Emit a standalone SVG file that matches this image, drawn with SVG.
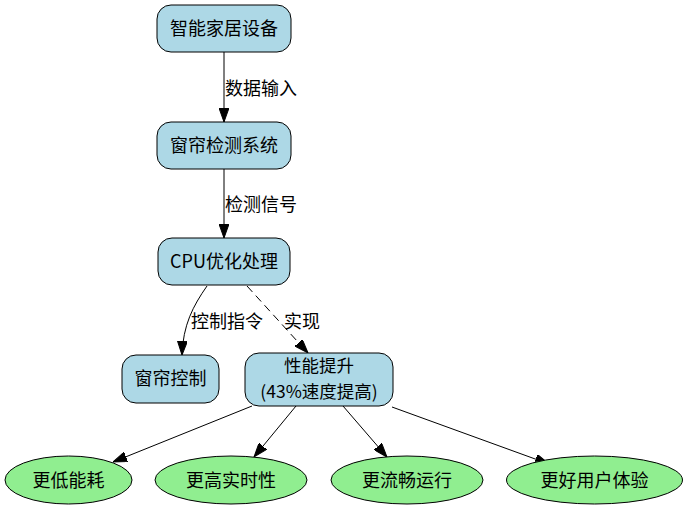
<svg xmlns="http://www.w3.org/2000/svg" width="687" height="510" viewBox="0 0 687 510">
<style>
.box{fill:#add8e6;stroke:#000;stroke-width:1}
.ell{fill:#90ee90;stroke:#000;stroke-width:1}
text{font-family:"Noto Sans CJK SC","Liberation Sans",sans-serif;font-size:18px;fill:#000}
.c{text-anchor:middle}
.t2{font-size:17.5px}
.e{fill:none;stroke:#000;stroke-width:1}
</style>
<defs>
<marker id="ah" viewBox="0 0 14 10" refX="14" refY="5" markerWidth="14" markerHeight="10" markerUnits="userSpaceOnUse" orient="auto">
<path d="M0,0 L14,5 L0,10 Z" fill="#000" stroke="#000"/>
</marker>
</defs>
<g id="connectors">
<path class="e" d="M224,52 L224,122" marker-end="url(#ah)"/>
<text x="225" y="95">数据输入</text>
<path class="e" d="M224,169 L224,238" marker-end="url(#ah)"/>
<text x="225" y="211">检测信号</text>
<path class="e" d="M207,286 C193,306 183,325 182,355" marker-end="url(#ah)"/>
<text x="191" y="328">控制指令</text>
<path class="e" d="M247,286 L308,353" stroke-dasharray="8,5" marker-end="url(#ah)"/>
<text x="284" y="328">实现</text>
<path class="e" d="M252,406 L113,462" marker-end="url(#ah)"/>
<path class="e" d="M296,406 L254,457" marker-end="url(#ah)"/>
<path class="e" d="M343,406 L387,457" marker-end="url(#ah)"/>
<path class="e" d="M392,407 L549,464" marker-end="url(#ah)"/>
</g>
<g id="n1"><rect class="box" x="157" y="5" width="134" height="47" rx="14"/><text class="c" x="224" y="34.5">智能家居设备</text></g>
<g id="n2"><rect class="box" x="157" y="122" width="134" height="47" rx="14"/><text class="c" x="224" y="151.5">窗帘检测系统</text></g>
<g id="n3"><rect class="box" x="158" y="238" width="132" height="47" rx="14"/><text class="c" x="224" y="267.5">CPU优化处理</text></g>
<g id="n4"><rect class="box" x="122" y="355" width="97" height="48" rx="14"/><text class="c" x="170.5" y="385">窗帘控制</text></g>
<g id="n5"><rect class="box" x="245" y="353" width="148" height="53" rx="14"/><text class="c t2" x="319" y="372">性能提升</text><text class="c t2" x="319" y="397.5">(43%速度提高)</text></g>
<g id="e1"><ellipse class="ell" cx="68.5" cy="480" rx="63.5" ry="24"/><text class="c" x="68.5" y="486.5">更低能耗</text></g>
<g id="e2"><ellipse class="ell" cx="231" cy="480" rx="76" ry="24"/><text class="c" x="231" y="486.5">更高实时性</text></g>
<g id="e3"><ellipse class="ell" cx="407" cy="480" rx="76" ry="24"/><text class="c" x="407" y="486.5">更流畅运行</text></g>
<g id="e4"><ellipse class="ell" cx="594.5" cy="480" rx="88" ry="24"/><text class="c" x="594.5" y="486.5">更好用户体验</text></g>
</svg>
